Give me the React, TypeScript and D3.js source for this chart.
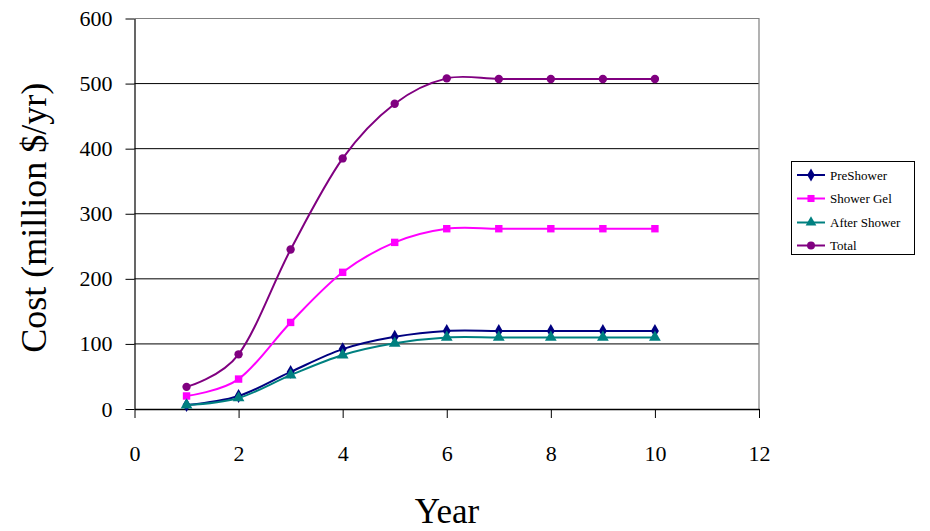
import React, { useEffect, useRef } from 'react';
import * as d3 from 'd3';

// years on the x axis
const years = [1, 2, 3, 4, 5, 6, 7, 8, 9, 10];

// cost series, million $/yr
const preShower = [6, 20, 57, 92, 111, 120, 120, 120, 120, 120];
const showerGel = [20, 46, 133, 210, 256, 277, 277, 277, 277, 277];
const afterShower = [6, 17, 52, 83, 101, 110, 110, 110, 110, 110];
const total = [34, 84, 245, 385, 469, 508, 507, 507, 507, 507];

const seriesNames = ['PreShower', 'Shower Gel', 'After Shower', 'Total'];
const seriesColors = ['#000080', '#FF00FF', '#008080', '#800080'];
const seriesSymbols = [d3.symbolDiamond, d3.symbolSquare, d3.symbolTriangle, d3.symbolCircle];

const xTicks = [0, 2, 4, 6, 8, 10, 12];
const yTicks = [0, 100, 200, 300, 400, 500, 600];

const App = () => {
  const ref = useRef<SVGSVGElement>(null);

  useEffect(() => {
    const svg = d3.select(ref.current);
    svg.selectAll('*').remove();

    const width = 930;
    const height = 531;
    const margin = { top: 18.5, right: 171, bottom: 122, left: 134.5 };
    const font = '"Liberation Serif", "DejaVu Serif", serif';

    svg.attr('viewBox', [0, 0, width, height]).attr('width', width).attr('height', height);

    const x = d3.scaleLinear().domain([0, 12]).range([margin.left, width - margin.right]);
    const y = d3.scaleLinear().domain([0, 600]).range([height - margin.bottom, margin.top]);

    // gridlines
    svg.append('g')
      .selectAll('line')
      .data(yTicks.filter(d => d > 0 && d < 600))
      .join('line')
      .attr('x1', x(0)).attr('x2', x(12))
      .attr('y1', d => y(d)).attr('y2', d => y(d))
      .attr('stroke', '#000').attr('stroke-width', 1);

    // plot border (top, right)
    svg.append('path')
      .attr('d', `M${x(0)},${y(600)}H${x(12)}V${y(0)}`)
      .attr('fill', 'none').attr('stroke', '#808080').attr('stroke-width', 1.2);

    // y axis
    const yAxis = svg.append('g')
      .attr('transform', `translate(${x(0)},0)`)
      .call(d3.axisLeft(y).tickValues(yTicks).tickSize(9).tickSizeOuter(0).tickPadding(13));
    yAxis.select('.domain').attr('stroke', '#000').attr('stroke-width', 1.2);
    yAxis.selectAll('.tick line').attr('stroke', '#000');
    yAxis.selectAll('text').attr('font-family', font).attr('font-size', 22).attr('fill', '#000');

    // x axis
    const xAxis = svg.append('g')
      .attr('transform', `translate(0,${y(0)})`)
      .call(d3.axisBottom(x).tickValues(xTicks).tickSize(9).tickSizeOuter(0).tickPadding(27));
    xAxis.select('.domain').attr('stroke', '#000').attr('stroke-width', 1.5);
    xAxis.selectAll('.tick line').attr('stroke', '#000');
    xAxis.selectAll('text').attr('font-family', font).attr('font-size', 22).attr('fill', '#000');

    // axis titles
    svg.append('text')
      .attr('transform', `translate(46,${(y(0) + y(600)) / 2 + 4}) rotate(-90)`)
      .attr('text-anchor', 'middle')
      .attr('font-family', font).attr('font-size', 36)
      .text('Cost (million $/yr)');

    svg.append('text')
      .attr('x', 447).attr('y', 523)
      .attr('text-anchor', 'middle')
      .attr('font-family', font).attr('font-size', 35)
      .text('Year');

    const allSeries = [preShower, showerGel, afterShower, total];
    const line = d3.line<number>()
      .x((d, i) => x(years[i]))
      .y(d => y(d))
      .curve(d3.curveCardinal.tension(0));

    allSeries.forEach((vals, s) => {
      const g = svg.append('g');
      g.append('path')
        .attr('d', line(vals))
        .attr('fill', 'none')
        .attr('stroke', seriesColors[s])
        .attr('stroke-width', 2);
      g.selectAll('path.m')
        .data(vals)
        .join('path')
        .attr('class', 'm')
        .attr('transform', (d, i) => `translate(${x(years[i])},${y(d)})`)
        .attr('d', d3.symbol().type(seriesSymbols[s]).size(s === 2 ? 60 : 55)())
        .attr('fill', seriesColors[s]);
    });

    // legend
    const legend = svg.append('g');
    legend.append('rect')
      .attr('x', 791.5).attr('y', 161.5).attr('width', 123).attr('height', 93)
      .attr('fill', '#fff').attr('stroke', '#000').attr('stroke-width', 1);

    const legendY = [175, 198.5, 222.5, 245.5];
    seriesNames.forEach((name, s) => {
      const row = legend.append('g').attr('transform', `translate(0,${legendY[s]})`);
      row.append('line')
        .attr('x1', 797).attr('x2', 825).attr('y1', 0).attr('y2', 0)
        .attr('stroke', seriesColors[s]).attr('stroke-width', 2);
      row.append('path')
        .attr('transform', 'translate(811,0)')
        .attr('d', d3.symbol().type(seriesSymbols[s]).size(50)())
        .attr('fill', seriesColors[s]);
      row.append('text')
        .attr('x', 830).attr('y', 0).attr('dy', '0.35em')
        .attr('font-family', font).attr('font-size', 13)
        .text(name);
    });
  }, []);

  return (
    <svg ref={ref} style={{ position: 'absolute', left: 0, top: 0, background: '#fff' }}></svg>
  );
};

export default App;
